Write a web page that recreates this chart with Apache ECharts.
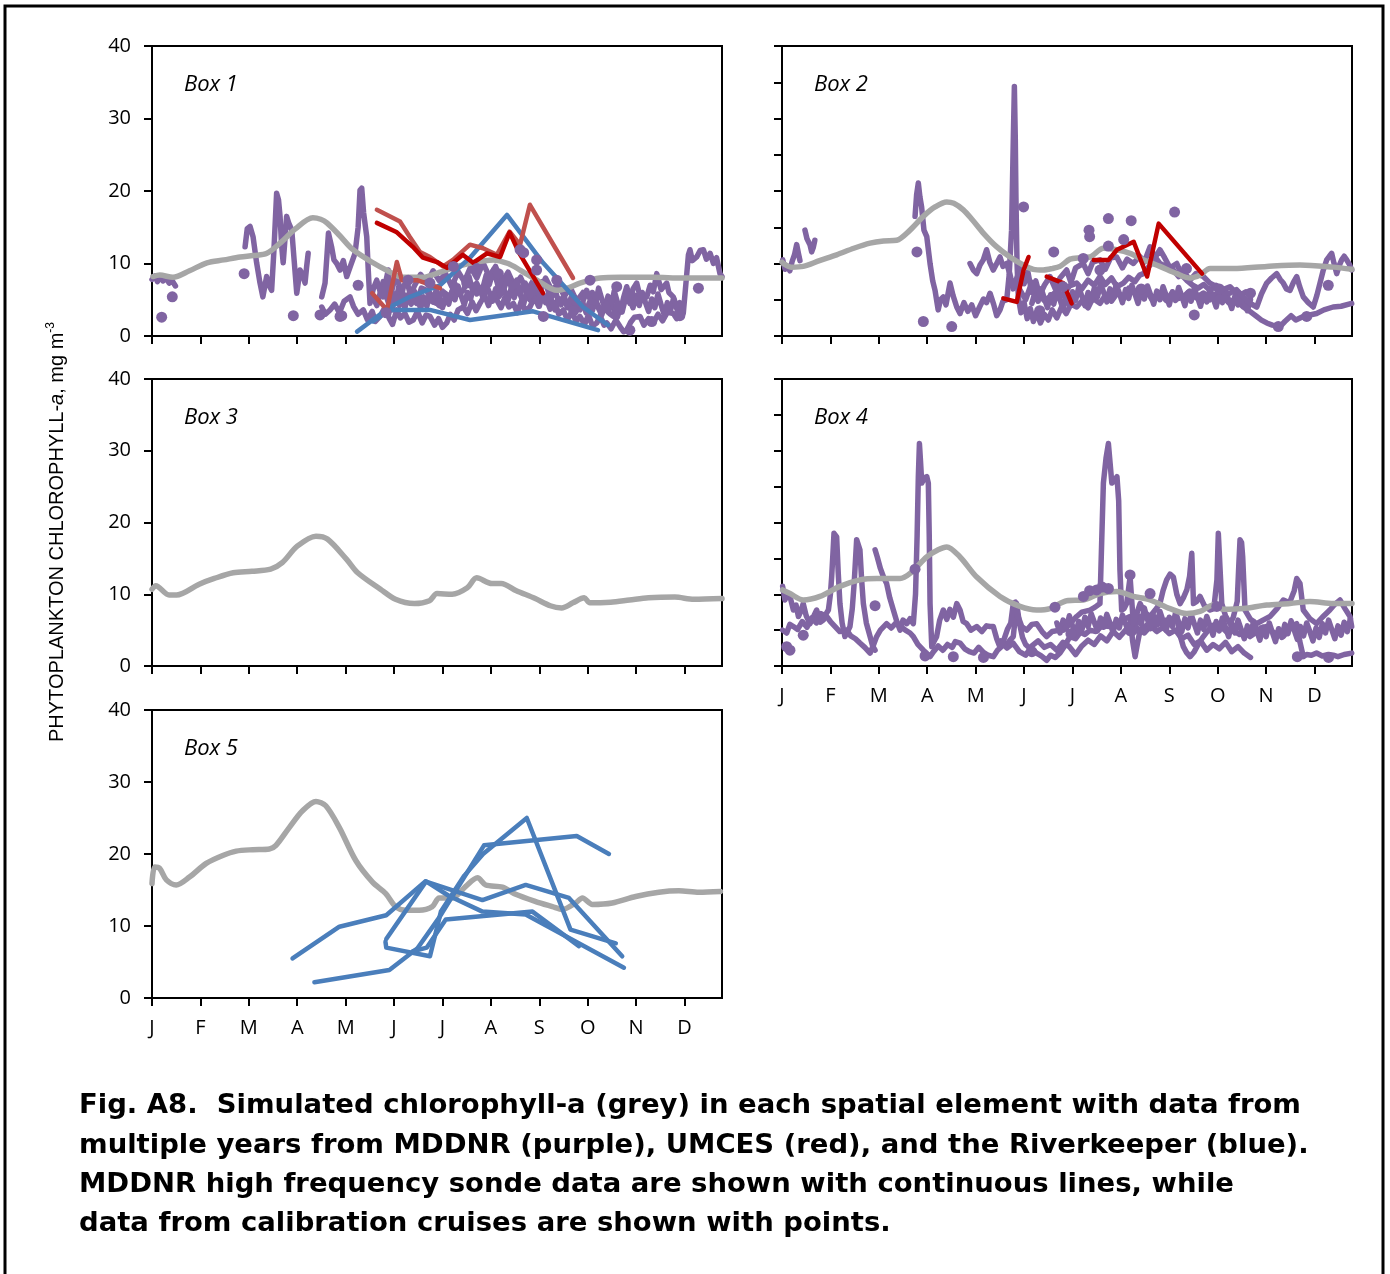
<!DOCTYPE html>
<html>
<head>
<meta charset="utf-8">
<script src="https://cdn.jsdelivr.net/npm/echarts/dist/echarts.min.js"></script>
<style>
html,body{margin:0;padding:0;background:#fff;}
#chart{width:1390px;height:1274px;}
</style>
</head>
<body>
<div id="chart"></div>
<script>
// ---------------- DATA ----------------
const MONTH_LABELS = ['J','F','M','A','M','J','J','A','S','O','N','D'];
const MONTH_TICK_DAYS = [0,31,62,93,124,155,186,217,248,279,310,341];
const BOX_NAMES = ['Box 1','Box 2','Box 3','Box 4','Box 5'];

// Simulated (grey)
const GREY1 = [[0.6,8.2],[5,8.4],[13.4,8.1],[24,9.0],[35.2,10.1],[46,10.5],[56.4,10.9],[65,11.1],[73.6,11.4],[82,12.8],[92,14.8],[103,16.3],[108,16.1],[112,15.6],[120,13.9],[128.7,11.9],[141.5,10.1],[150,9.1],[160.7,8.1],[173.5,8.1],[184.4,8.8],[192.7,9.4],[205,10.1],[218.4,10.5],[228,10.0],[235.7,9.1],[246.5,7.7],[259.4,6.3],[266,6.6],[274,7.3],[286.9,8.0],[300,8.1],[320.8,8.1],[340,8.0],[365,8.0]];
const GREY2 = [[0,10.2],[0.9,10.0],[6,9.5],[13.6,9.6],[24,10.4],[35,11.2],[46,12.1],[56.4,12.8],[65,13.1],[73.4,13.2],[82,14.6],[90.5,16.5],[98,17.8],[105.5,18.5],[110,18.3],[116.1,17.4],[122,16.0],[128.9,14.2],[137,12.4],[146,10.9],[154.5,9.8],[161,9.2],[167.3,9.1],[173,9.3],[178,9.6],[184.4,10.6],[191,10.8],[197.2,10.9],[205.8,12.1],[214.3,11.9],[222.9,11.4],[231.4,10.5],[242,9.6],[252.8,8.6],[261.3,8.0],[267.7,8.4],[274.1,9.3],[289,9.3],[310.4,9.6],[331.7,9.8],[353,9.5],[365,9.2]];
const GREY3 = [[0,10.7],[2.4,11.2],[10.9,9.9],[15.7,9.9],[30.2,11.4],[39.9,12.2],[52,13.0],[64,13.2],[76,13.5],[83.4,14.4],[93,16.7],[105,18.1],[112.3,17.7],[124.5,14.9],[131.7,13.0],[146.3,10.7],[155.9,9.3],[168,8.7],[177.7,9.1],[182.5,10.1],[192.2,10.0],[201.9,10.9],[207.9,12.3],[217.6,11.5],[223.6,11.5],[233.3,10.5],[245.4,9.4],[255,8.4],[262.3,8.1],[269.5,8.8],[276.8,9.5],[280.4,8.8],[293.7,8.9],[305.8,9.2],[317.9,9.5],[334.8,9.6],[346.9,9.3],[365,9.4]];
const GREY4 = [[0.4,10.6],[5.1,10.1],[13.6,9.2],[24.3,9.7],[37.1,11.1],[49.9,12.0],[60.6,12.2],[75.6,12.2],[82,12.9],[92.7,15.2],[100,16.2],[105.5,16.6],[114,15.2],[124.7,12.4],[139.6,9.7],[152.4,8.3],[163.1,7.8],[171.6,8.0],[182.3,9.1],[193,9.2],[203.6,10.1],[214.3,10.4],[225,9.7],[235.7,9.2],[248.5,8.0],[259.2,7.3],[267.7,7.6],[276.2,8.5],[282.6,7.9],[295.4,8.0],[310.4,8.5],[325.3,8.7],[338.1,9.0],[353,8.7],[365,8.7]];
const GREY5 = [[0,15.9],[1.7,18.2],[4.9,18.0],[9.2,16.4],[15.5,15.7],[24,16.8],[34.7,18.7],[45.3,19.8],[53.9,20.4],[64.5,20.6],[75.2,20.7],[79.4,21.2],[88,23.7],[96.4,26.0],[105,27.3],[111.3,26.7],[119.9,23.7],[130.5,19.1],[141.2,16.1],[149.7,14.5],[156,12.7],[162.5,12.2],[171,12.2],[179.5,12.7],[183.9,13.9],[192.4,13.9],[200.9,15.5],[208.4,16.7],[213.7,15.7],[224.4,15.4],[232.9,14.4],[245.7,13.4],[256.4,12.7],[262.8,12.3],[271.3,13.2],[275.6,13.9],[282,13.0],[294.7,13.2],[309.7,14.1],[324.6,14.7],[337.4,14.9],[350.2,14.7],[364,14.8]];

// MDDNR sonde (purple lines) - Box 1
const P1_A = [[0,7.8],[2,8.3],[3.5,7.5],[5,8.2],[7,7.6],[9,8.0],[11,7.3],[13,7.6],[15,6.9]];
const P1_B = [[59.6,12.3],[61,14.8],[62.8,15.1],[64.7,13.7],[67,10.1],[69,7.5],[71,5.4],[73.4,8.2],[75,7.0],[76.6,6.3],[78,11.5],[79.8,19.7],[81,18.8],[82,16.5],[83,12.5],[84,10.1],[85.2,13.5],[86.2,16.5],[87.5,15.6],[89.5,14.6],[91,10.5],[92.7,5.9],[94.8,9.1],[96.5,8.4],[98,7.3],[99,9.5],[100,11.4]];
const P1_C = [[108.7,5.4],[110.8,7.3],[112,11],[113,14.2],[114,14.0],[115,12.3],[116.5,10.5],[118.3,10],[120.4,9.1],[122.5,10.4],[124.7,8.2],[127,9.6],[130,11.4],[132,15],[133.2,20.1],[134.3,20.4],[135.5,17],[137.5,13.7],[138.5,9],[139.6,4.5],[141.7,6.5],[143.9,7.7],[146,6.2],[148.1,5.4],[150,7.8],[151.3,9.1],[152.5,6],[153.5,3.6],[156,5.5],[158.5,4.2],[161,6.8],[163.1,7.7],[166,5.2],[169.5,4.5],[172.5,6.6],[175.9,6.3],[179,4.8],[182.3,4.5],[186,6.2],[190.8,5.4],[194,7.2],[196.5,5.8],[199.4,6.3],[203,8.2],[205,6.5],[207.9,7.3],[211,5.9],[214,8.4],[216,7.1],[218.6,9.1],[221,7.4],[223,5.6],[225,6.3],[228,8.1],[230.5,6.4],[233.5,7.7],[236,5.9],[239,7.3],[242,5.4],[245,6.9],[248,5.5],[250,7.5],[252.7,6.8],[255.5,5.2],[258,6.4],[260.5,4.6],[263.4,5.4],[266,4.1],[269,5.6],[271.5,3.9],[274,3.6],[277,5.4],[278.3,6.3],[281,4.8],[284.8,4.5],[288,3.4],[291.2,4.5],[293,3.1],[295.4,2.7],[298,4.6],[301,3.3],[304,5.9],[306,4.5],[308,6.5],[310.4,7.3],[313,5.0],[316.8,5.4],[319,7.0],[321,6.1],[323.2,8.6],[326,6.4],[329.6,7.3],[331,6.0],[333.8,5.4],[336,4.0],[338,4.6],[340.2,3.1],[342,7.5],[343.5,11.2],[344.5,11.9],[346,10.4],[348.8,10.9],[351,11.8],[353.1,11.9],[355,10.6],[357.4,11.4],[359.5,10.0],[361.5,10.8],[363.7,8.6],[365,8.2]];
const P1_D = [[108.7,4.0],[111,3.0],[114,3.6],[117,4.4],[120,3.2],[123,4.8],[126.8,5.4],[129,4.1],[132,3.0],[135.3,3.6],[138,2.2],[141,3.4],[143,2.0],[146,2.7],[149,3.9],[152,2.4],[154,1.6],[156.7,3.6],[159,2.5],[162,3.1],[164.5,1.9],[167.3,2.2],[170,3.4],[173,1.8],[175.5,2.9],[178,2.7],[181,1.5],[183.5,2.4],[186,1.2],[188.7,1.8],[191,3.0],[193.5,2.2],[196,3.6],[199.4,4.0],[202,3.1],[205,4.7],[207.5,3.5],[210,4.5],[213,5.6],[215.5,4.2],[218,5.8],[220.7,5.0],[223.5,3.9],[226,5.3],[228.5,4.0],[231.4,4.5],[234,3.2],[236.5,4.8],[239,3.5],[242,4.0],[245,5.4],[247.5,4.1],[250,5.6],[252.7,5.0],[255,3.7],[258,4.6],[260.5,3.0],[263.4,3.6],[266,2.2],[269,3.4],[271.5,2.0],[274,2.7],[277,1.6],[279.5,2.9],[282,1.4],[284.8,1.8],[287,2.8],[289.5,1.5],[291.2,1.8],[294,1.0],[297,2.2],[300,1.2],[302,0.6],[304,0.8],[306.5,1.9],[309,2.6],[312.5,2.7],[315,1.5],[318,2.4],[321,1.8],[324,3.0],[327,2.1],[330,3.3],[333.8,3.1],[336,2.4]];
const P1_E = [[140,6.0],[144,4.2],[148,7.5],[152,5.0],[156,8.3],[160,6.1],[164,4.8],[168,6.9],[172,8.5],[176,7.2],[180,9.0],[184,7.6],[188,8.6],[192,6.8],[196,8.9],[200,7.5],[204,9.5],[208,8.0],[212,10.1],[216,8.2],[220,9.6],[224,7.4],[228,8.8],[232,6.9],[236,8.1],[240,6.2],[244,7.6],[248,5.9],[252,8.0],[256,6.3],[260,7.2],[264,5.5],[268,6.6],[272,4.8],[276,6.0]];
const P1_F = [[150,5.5],[152,4.2],[154,6.0],[156,4.6],[158,6.8],[160,5.0],[162,3.9],[164,5.7],[166,4.4],[168,6.2],[170,5.1],[172,3.8],[174,5.4],[176,4.1],[178,5.9],[180,4.7],[182,6.4],[184,5.2],[186,3.9],[188,5.6],[190,4.4],[192,6.1],[194,5.0],[196,6.9],[198,5.5],[200,4.3],[202,6.0],[204,5.1],[206,7.0],[208,5.8],[210,6.6],[212,5.2],[214,7.1],[216,6.0],[218,4.8],[220,6.5],[222,5.4],[224,7.2],[226,6.1],[228,4.9],[230,6.6],[232,5.3],[234,6.9],[236,5.6],[238,4.4],[240,6.2],[242,5.0],[244,6.5],[246,5.2],[248,4.1],[250,5.8],[252,4.6],[254,6.0],[256,4.8],[258,3.6],[260,5.2],[262,4.3],[264,5.5],[266,3.9],[268,4.7],[270,3.4],[272,4.9],[274,3.7],[276,4.5],[278,3.2],[280,4.6],[282,3.5],[284,5.0],[286,3.8],[288,2.9],[290,4.2],[292,3.3],[294,4.8],[296,3.6],[298,2.6],[300,4.0]];
const P1_G = [[282,6.0],[284,4.5],[286,6.6],[288,5.1],[290,3.8],[292,5.5],[294,4.0],[296,6.2],[298,4.7],[300,3.5],[302,5.3],[304,6.8],[306,5.0],[308,3.9],[310,5.6],[312,4.2],[314,6.0],[316,4.6],[318,3.4],[320,5.1],[322,3.9],[324,5.8],[326,4.3],[328,2.9],[330,4.6],[332,3.5],[334,5.2],[336,3.8],[338,2.6],[340,4.0]];
// MDDNR cruise points - Box 1
const P1_DOTS = [[6.2,2.6],[13,5.4],[59,8.6],[90.5,2.8],[107.6,2.9],[120.4,2.7],[121.5,2.8],[132,7.0],[150,3.2],[164,7.7],[178,7.3],[185,4.5],[193,9.6],[201.5,7.3],[208,9.3],[221.8,8.6],[235.7,11.9],[238,11.5],[246.3,10.5],[246.3,9.1],[250.6,2.7],[259.2,7.7],[270,3.5],[280.5,7.7],[297.6,6.8],[306,0.8],[320,2.0],[338,2.8],[349.9,6.6]];
// UMCES (red) - Box 1
const R1_A = [[144,17.4],[158.8,15.8],[165,13.7],[171.6,11.6],[178,10.9],[186.4,9.6],[192.7,10.5],[203.6,12.6],[212,12.1],[220.8,11.2],[229,14.4],[235.7,12.6],[242,18.1],[269.6,8.0]];
const R1_B = [[144,15.6],[156.8,14.3],[167,12.3],[173.5,10.8],[182.5,10.2],[188.9,9.4],[199,11.2],[205.6,10.1],[214.5,11.4],[222.9,10.9],[229,14.3],[235,11.5],[250.4,5.9]];
const R1_C = [[141,5.9],[150.5,3.6],[156.8,10.2],[160,7.7],[169.7,7.7],[184.4,6.6]];
// Riverkeeper (blue) - Box 1
const B1_A = [[131.3,0.6],[152.4,4.0],[165.2,5.4],[184.4,7.0],[203.6,10.8],[227.3,16.7],[250.4,10.1],[276,4.0],[292,1.5]];
const B1_B = [[141.5,2.0],[152.4,3.6],[178,3.6],[203.6,2.2],[244,3.4],[285.6,0.8]];

// Box 2
const P2_A = [[0.5,10.5],[2,9.2],[3.5,9.6],[5,9.0],[6.5,10.3],[8,11.2],[9.4,12.6],[10.5,11.4],[11.5,10.4]];
const P2_A2 = [[14.7,14.6],[16,13.4],[17.9,12.6],[19,11.6],[20,12.2],[21,13.2]];
const P2_B = [[85.2,16.5],[86.2,19.5],[87.3,21.1],[88.3,19.2],[89.4,17.8],[90.9,14.6],[92.7,13.7],[94.8,10.0],[96.5,7.6],[98,6.3],[100,3.6],[101.5,5.0],[103.3,5.4],[105,4.3],[107.6,7.3],[109.5,5.6],[111.9,4.0],[114,3.1],[116.5,4.6],[119,3.4],[121.5,4.3],[124,2.8],[126.5,4.0],[129,5.1],[131,4.6],[133.2,5.9],[135.5,4.4],[137.5,2.8],[139.6,3.6],[141.5,4.8],[143.9,5.0],[145.5,8.5],[147,14.6],[148.2,28],[148.8,34.4],[149.4,27],[149.8,19.2],[150.5,10],[151.3,5.4],[153,3.2],[155,4.6],[157,2.4],[159,3.8],[161,2.0],[163,3.3],[165.5,1.8],[168,3.0],[170.5,2.2],[173,3.6],[176,2.5],[179,4.0],[182,3.1],[185,4.4],[188.7,4.0],[192,4.8],[196,3.9],[199,5.2],[203.6,4.5],[207,5.6],[211,4.8],[215,6.0],[219,5.2],[222,6.6],[225,6.3],[229,5.5],[233,6.4],[237,5.0],[242,5.9],[246,4.9],[250,6.0],[253,5.1],[257,5.4],[261,6.2],[265,5.3],[269.8,5.9],[274,5.0],[278,5.8],[282.6,5.4],[286,4.6],[290,5.1],[295.4,4.0],[299,3.5],[304,2.7],[307,2.2],[310.4,1.8],[314,1.5],[318.9,1.3],[322,2.0],[326,2.8],[329,2.2],[333.8,2.7],[338,2.9],[342.3,3.1],[347,3.6],[352.9,4.0],[358,4.1],[364.8,4.5]];
const P2_C = [[120.4,10.0],[122.5,9.1],[124.7,8.6],[126.8,9.8],[128.9,10.5],[131,11.9],[133,10.2],[135.3,9.1],[137.5,10.0],[139.6,10.9],[141.5,9.6],[143.9,10.0],[146,8.5],[148,6.5],[150,7.8],[153,9.5],[155,7.2],[157.5,8.8],[160,6.0],[162.5,7.6],[165,5.6],[168,7.0],[171.6,8.2],[175,6.5],[178,8.0],[182.3,9.1],[185,7.4],[188,9.4],[192.9,10.0],[196,8.6],[199,10.2],[203.6,10.5],[207,9.2],[210.5,10.8],[214.3,10.9],[218,9.4],[221,10.6],[225,10.0],[229,11.0],[232,10.2],[235.7,12.3],[238.5,11.0],[242,10.0],[246,9.6],[250.6,9.1],[254,8.2],[257.5,8.8],[261.3,7.7],[265,8.6],[269.8,8.2],[274,7.3],[278.4,6.8],[282.5,6.0],[286.9,5.9],[291,6.4],[295.4,5.4],[299,4.6],[304,4.0],[307,5.8],[310.4,7.3],[313.5,8.0],[316.8,8.6],[319,7.8],[321,7.3],[323,6.5],[325.3,6.3],[327.5,7.4],[329.6,8.2],[331.5,6.8],[333.8,5.4],[337,4.6],[340.2,4.0],[342.5,5.6],[344.5,7.3],[346.5,9.0],[348.8,10.5],[350.5,11.0],[352,11.4],[353.5,10.0],[355.2,8.6],[357,9.8],[358.4,10.5],[360,11.0],[361.6,10.5],[363.5,9.8],[364.8,9.1]];
const P2_D = [[152,6.5],[156,5.0],[160,7.4],[164,5.8],[168,4.9],[171.6,5.4],[176,6.2],[180,5.5],[184,6.9],[188.7,7.3],[192,6.5],[196,7.7],[200,7.0],[203.6,8.2],[207,7.1],[211,8.0],[214.5,6.8],[218.6,7.3],[222,8.1],[226,7.5],[229,8.4],[231.4,8.6],[235,9.6],[238,10.5],[242,11.9],[245,10.8],[248.5,9.4],[252.8,10.0],[256,8.4],[259.5,7.6],[263,7.0],[266.5,6.6],[270,7.1],[274,6.3],[278,7.0],[282.5,6.4],[286.9,6.8],[290.5,6.0],[294,5.7],[297,6.1],[299.7,5.4]];
const P2_E = [[160,4.5],[162,6.0],[164,4.8],[166,6.5],[168,5.2],[170,3.9],[172,5.7],[174,4.4],[176,6.2],[178,5.0],[180,3.7],[182,5.5],[184,4.3],[186,6.1],[188,4.9],[190,6.7],[192,5.5],[194,4.2],[196,6.0],[198,4.8],[200,6.6],[202,5.4],[204,7.2],[206,6.0],[208,4.7],[210,6.5],[212,5.3],[214,7.1],[216,5.9],[218,4.6],[220,6.4],[222,5.2],[224,7.0],[226,5.8],[228,4.5],[230,6.3],[232,5.1],[234,6.9],[236,5.7],[238,4.4],[240,6.2],[242,5.0],[244,6.8],[246,5.6],[248,4.3],[250,6.1],[252,4.9],[254,6.7],[256,5.5],[258,4.2],[260,6.0],[262,4.8],[264,6.6],[266,5.4],[268,4.1],[270,5.9],[272,4.7],[274,6.5],[276,5.3],[278,4.0],[280,5.8],[282,4.6],[284,6.2],[286,5.0],[288,3.8],[290,5.5],[292,4.3],[294,5.8],[296,4.6],[298,3.5],[300,5.0]];
const P2_DOTS = [[86.4,11.6],[90.5,2.0],[108.7,1.3],[154.7,17.8],[165,3.5],[174,11.6],[180,6.8],[192.9,10.7],[196.6,14.6],[197,13.7],[203.6,9.1],[209,16.2],[209,12.4],[218.8,13.3],[223.6,15.9],[230,6.5],[251.4,17.1],[259,9.3],[264,2.9],[280,6.5],[300,5.9],[317.8,1.3],[336,2.7],[349.8,7.0]];
const R2_A = [[141.7,5.2],[150.3,4.7],[154.7,9.1],[157.9,10.9]];
const R2_B = [[169.5,8.2],[180.1,7.3],[185.5,4.5]];
const R2_C = [[199.6,10.5],[209.2,10.5],[214.5,11.9],[225.2,13.0],[233.8,8.2],[241.2,15.5],[269,8.6]];

// Box 4
const P4_A = [[0.4,11.1],[1.9,9.2],[3.5,10.0],[5.1,9.7],[7.3,7.8],[9,8.5],[10.5,6.9],[12,7.6],[13.6,8.7],[15.5,7.0],[17.9,5.9],[20,6.8],[22.2,7.8],[24.5,6.1],[26.5,6.4],[28,7.2],[29.7,7.8],[31,10],[31.8,12.4],[32.7,16],[33.3,18.5],[34.2,18.6],[35,18.0],[36,13],[37.1,8.7],[38.5,6],[40.3,4.1],[42,4.8],[43.5,5.5],[45,8],[46.2,11.5],[46.7,13.4],[47.8,17.6],[49,17.4],[49.9,16.2],[51,12],[52.1,8.7],[54,6],[56.4,4.1],[58,2.8],[59.6,2.2]];
const P4_B = [[59.6,16.2],[61,15.2],[63,13.6],[65,12.4],[67,11.5],[69,9.5],[71.3,7.8],[73.5,6.2],[75.6,5.0],[77.5,6.4],[79.9,5.9],[82,6.6],[84.1,5.9],[85.5,10],[86.5,18],[87.3,26.4],[88,31.0],[88.7,28.5],[89.5,25.5],[91,26.2],[92.7,26.4],[93.7,25.5],[94.3,18],[94.8,8.7],[95.9,2.7],[97.5,3.5],[99,4.1],[101,6.4],[103.3,7.8],[105.5,6.5],[107.5,7.9],[109.7,6.8],[111.9,8.7],[114,7.8],[116,6.2],[118.3,5.9],[121,5.0],[124.7,5.5],[128,4.8],[131,5.6],[133.2,5.5],[135.3,5.5],[137.5,3.8],[139.6,2.6],[142,3.6],[144.5,5.2],[146.5,6.0],[148.1,8.7],[149.5,8.9],[151,7.0],[153.5,5.5],[156.7,5.0],[160,5.8],[163.1,5.9],[166.5,4.8],[169.5,4.1],[173,4.8],[178,5.0],[180.1,5.0],[184,5.8],[188.7,6.9],[192,7.5],[197.2,7.8],[200.5,8.2],[203.6,8.7],[204.8,18],[205.8,25.5],[207.5,29],[209,31.0],[210.2,28],[211.2,25.5],[213,25.8],[214.5,26.4],[215.6,23],[216.4,13.4],[217.5,7.8],[219,8.0],[220.7,8.7],[222.9,12.4],[225,5.9],[227,7.2],[229.3,8.7],[232,7.5],[235.7,6.9],[239,7.8],[242,8.7],[244,10.5],[246.3,12.0],[248.5,12.8],[250.6,12.4],[252.8,10.0],[254.9,8.7],[257,9.5],[259.2,10.6],[261,12.5],[262.4,15.7],[263.5,8.7],[265.5,9.0],[267.7,9.7],[270.5,8.4],[274.1,7.8],[276.5,8.0],[278.5,12],[279.4,18.5],[280.5,18.6],[281.6,8.7],[284,7.0],[286.9,5.9],[289,6.8],[291.5,9],[292.5,14],[293.3,17.6],[294.3,17.2],[295,15.2],[296.5,7.8],[300,6.5],[304,5.9],[308,6.4],[312.5,6.9],[317,8.0],[321,9.2],[325,8.8],[328,10.5],[329.6,12.2],[331.7,11.5],[333.8,7.8],[338,6.6],[342.3,5.9],[346,6.8],[350.8,7.8],[354,8.6],[357.3,9.2],[360.5,8.0],[363.7,6.9],[364.8,5.5]];
const P4_C = [[0.4,5.0],[3,4.6],[5,5.8],[7.3,5.5],[10,5.1],[13,6.2],[16,5.4],[19,6.7],[22,6.0],[25,7.3],[28.6,6.9],[31,6.2],[34,5.5],[37,4.8],[41.4,5.0],[44,4.2],[47,3.8],[49.9,3.2],[53,2.6],[56.4,1.8],[58.5,2.9],[60.6,4.1],[63,5.0],[67,5.9],[70,5.3],[73,6.0],[76,5.5],[79,5.0],[82,4.6],[84.1,4.1],[87,3.0],[90.5,2.2],[92.5,1.8],[94.8,1.3],[97,2.0],[100,2.8],[103,2.2],[106,3.0],[109,2.6],[111,3.4],[114,3.2],[117,2.4],[120,2.0],[123,1.8],[126,2.6],[129,1.9],[132,1.5],[135.3,1.3],[138,2.2],[141,2.8],[144,3.0],[146,3.6],[148.1,4.1],[150.3,8.7],[152,6.0],[154,4.0],[156,3.0],[158.5,2.5],[160.9,2.2],[163,1.8],[166,1.4],[169.5,0.8],[172,1.5],[175,1.2],[178,1.8],[181,2.8],[184.4,4.1],[188,3.8],[191,4.7],[194,4.4],[197.2,5.0],[201,4.8],[205,5.6],[210,5.5],[214,6.0],[218,6.4],[222.9,6.9],[224.5,3.5],[226.1,1.3],[227.5,3.0],[229.3,5.0],[233,5.6],[237,6.2],[242,5.9],[246,6.4],[249,6.0],[252.8,6.9],[255,4.2],[257,2.7],[259,1.9],[261.3,1.3],[264,2.0],[267,3.2],[269.8,4.1],[273,5.0],[275.5,5.6],[278.4,5.9],[282,5.3],[285.5,4.6],[289,5.0],[293,4.4],[296,4.7],[299.7,4.1],[303,4.6],[306.5,5.3],[310.4,5.5],[314,4.8],[317.5,4.4],[321,4.1],[324,4.9],[327,5.6],[329.6,5.9],[331.5,3.5],[333.8,1.3],[336,1.6],[339,1.5],[342.3,1.8],[346,1.4],[350,1.6],[353,1.5],[356,1.3],[360,1.6],[364.8,1.8]];
const P4_E = [[140,3.5],[144,2.5],[148,3.2],[152,2.0],[156,1.5],[160,2.8],[164,3.5],[168,2.6],[172,3.0],[176,2.2],[180,3.3],[184,2.7],[188,1.6],[192,2.8],[196,3.6],[200,3.0],[204,4.2],[208,3.5],[212,4.8],[216,4.0],[220,5.0],[224,4.4],[228,5.2],[232,4.6],[236,5.6],[240,4.8],[244,5.4],[248,4.5],[252,5.0],[256,3.8],[260,4.3],[264,3.0],[268,3.5],[272,2.2],[276,3.0],[280,2.4],[284,3.3],[288,2.0],[292,2.7],[296,1.8],[300,1.2]];
const P4_F = [[176,6.0],[178,4.6],[180,6.4],[182,5.2],[184,7.0],[186,5.6],[188,4.4],[190,6.2],[192,5.0],[194,6.8],[196,5.5],[198,7.3],[200,6.1],[202,4.9],[204,6.7],[206,5.4],[208,7.2],[210,6.0],[212,4.7],[214,6.5],[216,5.3],[218,7.1],[220,5.9],[222,4.6],[224,6.4],[226,5.1],[228,7.0],[230,5.8],[232,8.1],[234,6.5],[236,5.2],[238,7.0],[240,5.7],[242,7.6],[244,6.3],[246,5.0],[248,6.8],[250,5.5],[252,7.4],[254,6.1],[256,4.8],[258,6.6],[260,5.3],[262,7.2],[264,5.9],[266,4.6],[268,6.4],[270,5.1],[272,6.9],[274,5.6],[276,4.3],[278,6.2],[280,4.9],[282,6.7],[284,5.4],[286,4.1],[288,5.9],[290,4.6],[292,6.4],[294,5.1],[296,3.8],[298,5.6],[300,4.4],[302,6.2],[304,4.9],[306,3.6],[308,5.4],[310,4.1],[312,6.0],[314,4.7],[316,3.4],[318,5.2],[320,4.0],[322,5.8],[324,4.5],[326,6.3],[328,5.0],[330,3.7],[332,5.5],[334,4.2],[336,6.0],[338,4.8],[340,3.5],[342,5.3],[344,4.0],[346,5.9],[348,4.6],[350,6.4],[352,5.1],[354,3.8],[356,5.6],[358,4.3],[360,6.1],[362,4.8],[364,6.6]];
const P4_DOTS = [[3,2.7],[5.1,2.2],[13.6,4.3],[59.6,8.4],[85.2,13.5],[91.6,1.4],[109.7,1.3],[129,1.2],[160,2.0],[174.8,8.2],[185,4.5],[193,9.7],[197,10.5],[201.5,10.6],[205,11],[209,10.8],[222.9,12.7],[235.7,10.1],[278.4,8.3],[330,1.3],[350,1.2]];

// Box 5 Riverkeeper (blue)
const B5_1 = [[90,5.5],[120,9.9],[150,11.5],[175,16.2],[211.6,13.6],[239.3,15.7],[267,13.9],[301.1,5.8]];
const B5_2 = [[104,2.2],[152,3.9],[170,6.9],[184,11.2],[212.6,21.2],[272,22.5],[292.6,20.0]];
const B5_3 = [[149.5,7.8],[150,7.0],[178,5.8],[185,12],[200,17],[212,20],[240,25.0],[268,9.5],[297,7.6]];
const B5_4 = [[150,8.2],[175.5,16.2],[190,14.2],[211.6,12.0],[239.3,11.6],[302.2,4.2]];
const B5_5 = [[167,6.5],[176,7.0],[188.1,10.9],[243.6,12.0],[273.4,7.2]];

const CAPTION_LINES = [
  'Fig. A8.  Simulated chlorophyll-a (grey) in each spatial element with data from',
  'multiple years from MDDNR (purple), UMCES (red), and the Riverkeeper (blue).',
  'MDDNR high frequency sonde data are shown with continuous lines, while',
  'data from calibration cruises are shown with points.'
];

// ---------------- LAYOUT / STYLE ----------------
const GRIDS = [
  {left:152, top:46, width:570, height:290},
  {left:782, top:46, width:570, height:290},
  {left:152, top:379, width:570, height:287},
  {left:782, top:379, width:570, height:287},
  {left:152, top:710, width:570, height:288}
];
const Y_LABEL_SHOW = [true,false,true,false,true];
const X_LABEL_SHOW = [false,false,false,true,true];
const Y_INTERVAL = [10,5,10,5,10];
const BOX_LABEL_POS = [[184,85],[814,85],[184,418],[814,418],[184,749]];

const PURPLE = '#8064A2', GREY = '#A6A6A6', BLUE = '#4A7EBB', RED = '#C00000', RED2 = '#C0504D';

const PANELS = [
  {purple:[P1_A,P1_B,P1_D,P1_F,P1_G,P1_E,P1_C], dots:P1_DOTS, grey:GREY1, blue:[B1_A,B1_B], red:[R1_A,R1_B,R1_C], redColors:[RED2,RED,RED2]},
  {purple:[P2_A,P2_A2,P2_B,P2_E,P2_D,P2_C], dots:P2_DOTS, grey:GREY2, blue:[], red:[R2_A,R2_B,R2_C], redColors:[RED,RED,RED]},
  {purple:[], dots:[], grey:GREY3, blue:[], red:[], redColors:[]},
  {purple:[P4_A,P4_C,P4_E,P4_F,P4_B], dots:P4_DOTS, grey:GREY4, blue:[], red:[], redColors:[]},
  {purple:[], dots:[], grey:GREY5, blue:[B5_1,B5_2,B5_3,B5_4,B5_5], red:[], redColors:[]}
];

const LABEL_FONT = 'Open Sans';

const grid = GRIDS.map(g => Object.assign({show:true, borderColor:'#000', borderWidth:2, backgroundColor:'transparent', containLabel:false}, g));

const xAxis = GRIDS.map((g,i) => ({
  gridIndex:i, type:'value', min:0, max:365, interval:31,
  axisLine:{show:true, onZero:false, lineStyle:{color:'#000', width:2}},
  axisTick:{show:true, inside:false, length:8, lineStyle:{color:'#000', width:2}, customValues:MONTH_TICK_DAYS},
  axisLabel:{show:X_LABEL_SHOW[i], customValues:MONTH_TICK_DAYS, margin:20, fontSize:20, fontFamily:LABEL_FONT, color:'#000',
    formatter:function(v){ const k = MONTH_TICK_DAYS.indexOf(Math.round(v)); return k>=0 ? MONTH_LABELS[k] : ''; }},
  splitLine:{show:false}
}));

const yAxis = GRIDS.map((g,i) => ({
  gridIndex:i, type:'value', min:0, max:40, interval:Y_INTERVAL[i],
  axisLine:{show:true, onZero:false, lineStyle:{color:'#000', width:2}},
  axisTick:{show:true, inside:false, length:8, lineStyle:{color:'#000', width:2}},
  axisLabel:{show:Y_LABEL_SHOW[i], margin:21, fontSize:20, fontFamily:LABEL_FONT, color:'#000'},
  splitLine:{show:false}
}));

function lineS(i, data, color, width, z, smooth){
  return {type:'line', xAxisIndex:i, yAxisIndex:i, data:data, showSymbol:false, symbol:'none',
    smooth: smooth || false, lineStyle:{color:color, width:width, join:'round', cap:'round'},
    z:z, silent:true, animation:false, emphasis:{disabled:true}};
}

const series = [];
PANELS.forEach((p,i) => {
  p.purple.forEach(d => series.push(lineS(i, d, PURPLE, 5.5, 2)));
  series.push(lineS(i, p.grey, GREY, 5.5, 3, 0.3));
  p.blue.forEach(d => series.push(lineS(i, d, BLUE, 4.5, 4)));
  p.red.forEach((d,k) => series.push(lineS(i, d, p.redColors[k], 4.5, 5)));
  if (p.dots.length) series.push({type:'scatter', xAxisIndex:i, yAxisIndex:i, data:p.dots, symbol:'circle', symbolSize:11,
    itemStyle:{color:PURPLE, opacity:1}, z:6, silent:true, animation:false, emphasis:{disabled:true}});
});

// caption: bold sans at the reference cap height, compressed horizontally to the reference line width
const CAP_FONT = '"DejaVu Sans", sans-serif';
const CAP_SIZE = 27;
const cv = document.createElement('canvas').getContext('2d');
cv.font = 'bold ' + CAP_SIZE + 'px ' + CAP_FONT;
const capScale = 1222 / cv.measureText(CAPTION_LINES[0]).width;

const graphic = [];
graphic.push({type:'rect', silent:true, shape:{x:5, y:6, width:1378, height:1300}, style:{fill:'none', stroke:'#000', lineWidth:3}});
BOX_NAMES.forEach((n,i) => graphic.push({type:'text', silent:true, x:BOX_LABEL_POS[i][0], y:BOX_LABEL_POS[i][1],
  style:{text:n, fontSize:22, fontStyle:'italic', fontFamily:LABEL_FONT, fill:'#000', align:'left', verticalAlign:'middle'}}));
graphic.push({type:'text', silent:true, x:57, y:532, rotation:Math.PI/2,
  style:{text:'PHYTOPLANKTON CHLOROPHYLL-{i|a}, mg m{sup|-3}', fontSize:20, fontFamily:'"Liberation Sans", Arial', fill:'#000',
    align:'center', verticalAlign:'middle',
    rich:{ i:{fontSize:20, fontStyle:'italic', fontFamily:'"Liberation Sans", Arial', fill:'#000', lineHeight:24},
           sup:{fontSize:12, fontFamily:'"Liberation Sans", Arial', fill:'#000', verticalAlign:'top', lineHeight:24} }}});
const CAP_Y = [1106, 1145.5, 1185, 1224];
CAPTION_LINES.forEach((t,k) => graphic.push({type:'text', silent:true, x:79, y:CAP_Y[k], scaleX:capScale, scaleY:1,
  style:{text:t, font:'bold ' + CAP_SIZE + 'px ' + CAP_FONT, fill:'#000', align:'left', verticalAlign:'middle'}}));

const chart = echarts.init(document.getElementById('chart'), null, {renderer:'canvas'});
chart.setOption({animation:false, backgroundColor:'#fff', grid, xAxis, yAxis, series, graphic});
</script>
</body>
</html>
